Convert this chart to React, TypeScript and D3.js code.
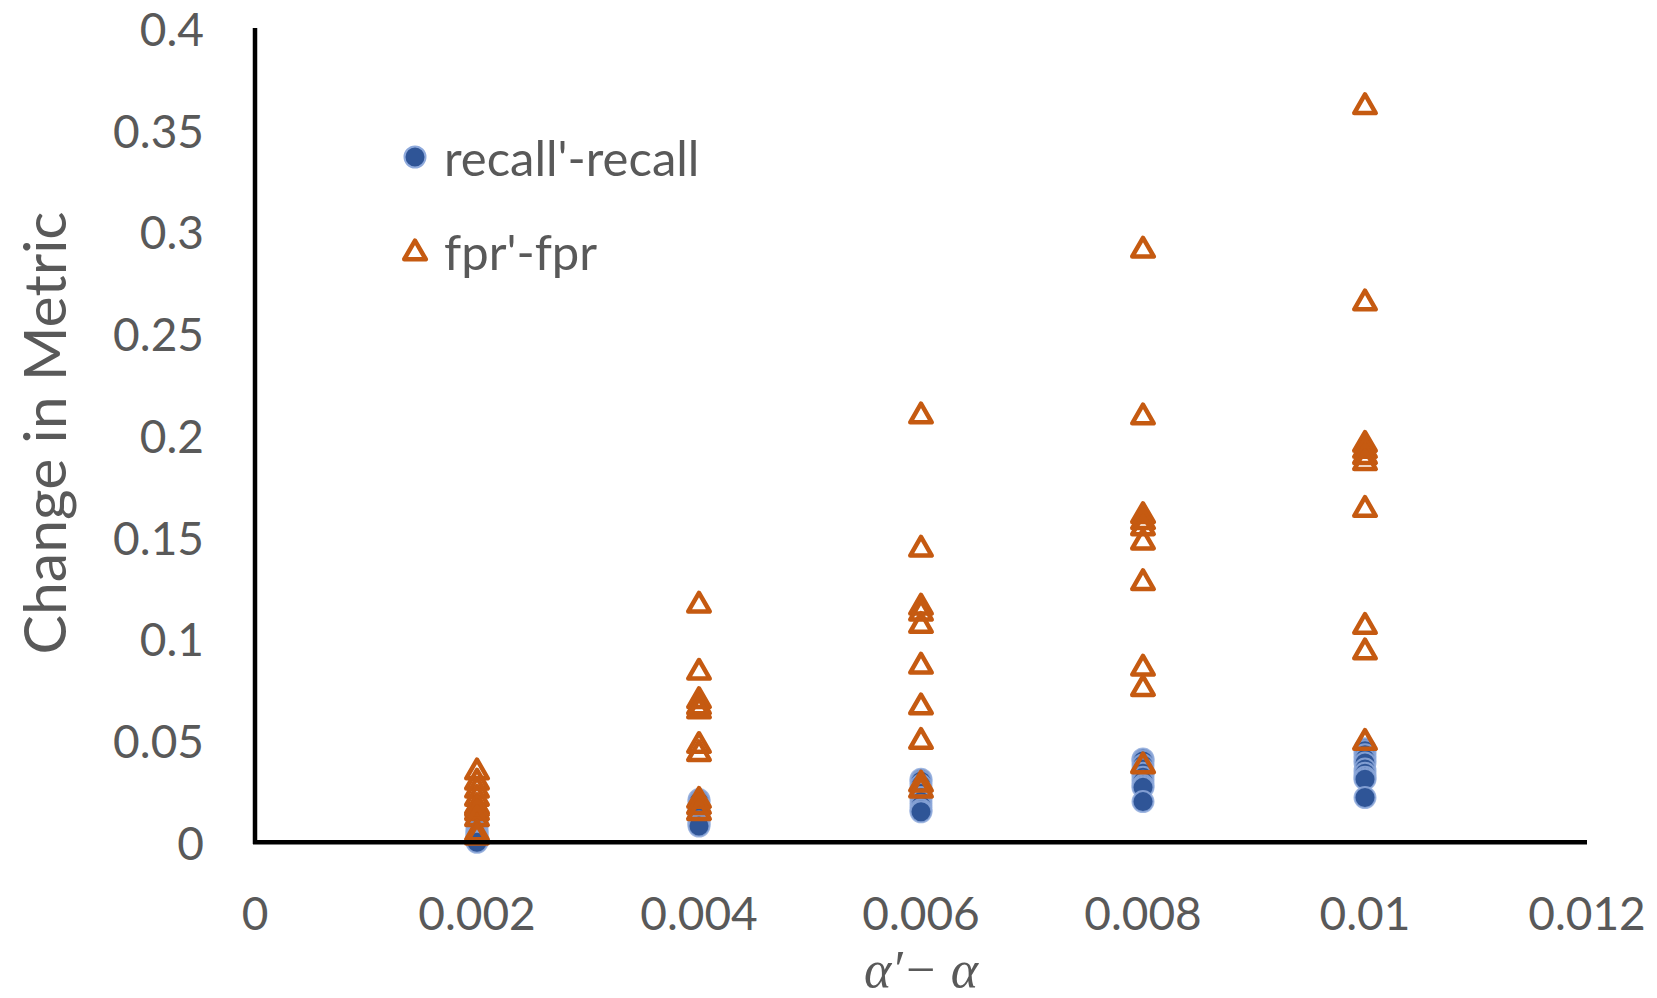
import React from "react";
import * as d3 from "d3";

// x positions (alpha' - alpha)
const xGroups = [0.002, 0.004, 0.006, 0.008, 0.01];

// recall'-recall values per x group
const recall002 = [0.010, 0.008, 0.006, 0.005, 0.004, 0.003, 0.002, 0.001, 0.0005, 0.0];
const recall004 = [0.021, 0.020, 0.018, 0.016, 0.015, 0.014, 0.012, 0.010, 0.009, 0.008];
const recall006 = [0.031, 0.030, 0.028, 0.026, 0.024, 0.022, 0.020, 0.018, 0.016, 0.015];
const recall008 = [0.041, 0.040, 0.038, 0.036, 0.034, 0.032, 0.030, 0.028, 0.027, 0.020];
const recall010 = [0.046, 0.045, 0.043, 0.041, 0.039, 0.036, 0.034, 0.032, 0.031, 0.022];

// fpr'-fpr values per x group
const fpr002 = [0.035, 0.030, 0.026, 0.022, 0.018, 0.017, 0.015, 0.012, 0.005, 0.003];
const fpr004 = [0.117, 0.084, 0.070, 0.067, 0.065, 0.048, 0.044, 0.021, 0.018, 0.015];
const fpr006 = [0.210, 0.1445, 0.116, 0.113, 0.107, 0.087, 0.067, 0.050, 0.029, 0.026];
const fpr008 = [0.2915, 0.2095, 0.161, 0.158, 0.155, 0.148, 0.128, 0.086, 0.076, 0.038];
const fpr010 = [0.362, 0.2655, 0.196, 0.193, 0.190, 0.187, 0.164, 0.1065, 0.094, 0.0495];

const recallSeries = [recall002, recall004, recall006, recall008, recall010];
const fprSeries = [fpr002, fpr004, fpr006, fpr008, fpr010];

const xTicks = [0, 0.002, 0.004, 0.006, 0.008, 0.01, 0.012];
const xTickLabels = ["0", "0.002", "0.004", "0.006", "0.008", "0.01", "0.012"];
const yTicks = [0, 0.05, 0.1, 0.15, 0.2, 0.25, 0.3, 0.35, 0.4];
const yTickLabels = ["0", "0.05", "0.1", "0.15", "0.2", "0.25", "0.3", "0.35", "0.4"];

const seriesNames = ["recall'-recall", "fpr'-fpr"];

const W = 1657;
const H = 998;
const FONT = "Lato, 'Open Sans', sans-serif";
const TEXT = "#595959";
const BLUE = "#2F5597";
const BLUE_STROKE = "#8FAADC";
const ORANGE = "#C55A11";

export default function App() {
  const x = d3.scaleLinear().domain([0, 0.012]).range([255, 1587]);
  const y = d3.scaleLinear().domain([0, 0.4]).range([842.3, 28.5]);
  const tri = d3.symbol().type(d3.symbolTriangle).size(200)() as string;

  const circles: { cx: number; cy: number }[] = [];
  recallSeries.forEach((vals, i) =>
    vals.forEach((v) => circles.push({ cx: x(xGroups[i]), cy: y(v) }))
  );
  const tris: { cx: number; cy: number }[] = [];
  fprSeries.forEach((vals, i) =>
    vals.forEach((v) => tris.push({ cx: x(xGroups[i]), cy: y(v) }))
  );

  return (
    <svg
      width={W}
      height={H}
      style={{ position: "absolute", left: 0, top: 0, background: "#fff" }}
    >
      {/* y tick labels */}
      {yTicks.map((t, i) => (
        <text
          key={"yt" + i}
          x={204}
          y={y(t)}
          textAnchor="end"
          dominantBaseline="central"
          fontFamily={FONT}
          fontSize={46}
          fill={TEXT}
        >
          {yTickLabels[i]}
        </text>
      ))}
      {/* x tick labels */}
      {xTicks.map((t, i) => (
        <text
          key={"xt" + i}
          x={x(t)}
          y={930}
          textAnchor="middle"
          fontFamily={FONT}
          fontSize={46}
          fill={TEXT}
        >
          {xTickLabels[i]}
        </text>
      ))}
      {/* axis titles */}
      <text
        transform={`translate(66,433) rotate(-90)`}
        textAnchor="middle"
        fontFamily={FONT}
        fontSize={59}
        fill={TEXT}
      >
        Change in Metric
      </text>
      <text
        x={921}
        y={987}
        textAnchor="middle"
        fontFamily="'Liberation Serif', 'DejaVu Serif', serif"
        fontStyle="italic"
        fontSize={52}
        fill={TEXT}
      >
        {"α′− α"}
      </text>

      {/* markers: circles */}
      {circles.map((c, i) => (
        <circle
          key={"c" + i}
          cx={c.cx}
          cy={c.cy}
          r={10.5}
          fill={BLUE}
          stroke={BLUE_STROKE}
          strokeOpacity={0.85}
          strokeWidth={2}
        />
      ))}
      {/* markers: triangles */}
      {tris.map((c, i) => (
        <path
          key={"t" + i}
          d={tri}
          transform={`translate(${c.cx},${c.cy + 1})`}
          fill="none"
          stroke={ORANGE}
          strokeWidth={4.5}
          strokeLinejoin="round"
        />
      ))}

      {/* axes */}
      <line x1={255} x2={255} y1={28} y2={844} stroke="#000" strokeWidth={4.5} />
      <line x1={253} x2={1587} y1={842.3} y2={842.3} stroke="#000" strokeWidth={4.5} />

      {/* legend */}
      <circle cx={415} cy={157} r={10.5} fill={BLUE} stroke={BLUE_STROKE} strokeWidth={2} />
      <text
        x={444}
        y={157}
        dominantBaseline="central"
        fontFamily={FONT}
        fontSize={49}
        fill={TEXT}
      >
        {seriesNames[0]}
      </text>
      <path
        d={tri}
        transform="translate(415,253)"
        fill="none"
        stroke={ORANGE}
        strokeWidth={4.5}
        strokeLinejoin="round"
      />
      <text
        x={444}
        y={251}
        dominantBaseline="central"
        fontFamily={FONT}
        fontSize={49}
        fill={TEXT}
      >
        {seriesNames[1]}
      </text>
    </svg>
  );
}
